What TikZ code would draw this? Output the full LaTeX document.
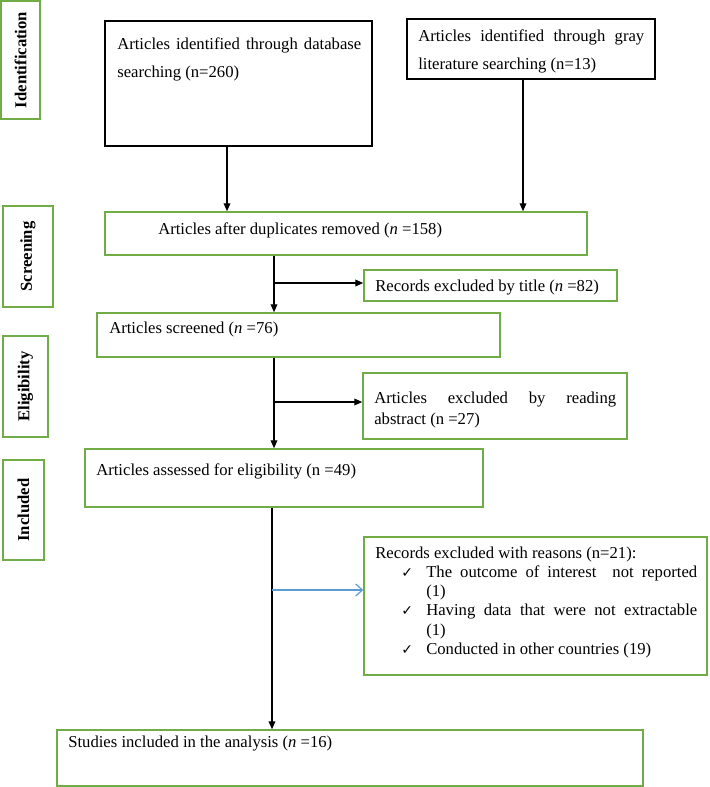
\documentclass[tikz,border=0pt]{standalone}
\usepackage{fontspec}
\setmainfont{Liberation Serif}
\newfontfamily\symfont{DejaVu Sans}
\usetikzlibrary{arrows.meta,fit}
\definecolor{pgreen}{RGB}{112,173,71}
\definecolor{pblue}{RGB}{91,155,213}
\begin{document}
\begin{tikzpicture}[x=0.75pt,y=-0.75pt,
  gbox/.style={draw=pgreen, line width=1.1pt, inner sep=0pt},
  kbox/.style={draw=black, line width=1.1pt, inner sep=0pt},
  txt/.style={inner sep=0pt, anchor=base west, font=\fontsize{12.5}{14}\selectfont},
  side/.style={rotate=90, inner sep=0pt, font=\fontsize{12.5}{14}\selectfont\bfseries},
  chk/.style={inner sep=0pt, anchor=base west, font=\symfont\fontsize{10.5}{11}\selectfont},
  arr/.style={-{Triangle[length=6pt,width=5pt]}, line width=1pt},
  barr/.style={-{Straight Barb[length=5pt,width=9pt]}, draw=pblue, line width=0.9pt}]
\useasboundingbox (0,0) rectangle (709,787);

% side labels
\node[gbox, fit={(1,1)(40,119)}] (lid) {};
\node[side] (tid) at (lid.center) {Identification};
\node[gbox, fit={(3,206)(53,307)}] (lsc) {};
\node[side] (tsc) at (lsc.center) {Screening};
\node[gbox, fit={(3,336)(48,437)}] (lel) {};
\node[side] (tel) at (lel.center) {Eligibility};
\node[gbox, fit={(3,460)(44,560)}] (lin) {};
\node[side] (tin) at (lin.center) {Included};

% identification boxes
\node[kbox, fit={(105,21)(372,146)}] (db) {};
\node[txt] (db1) at (117,50) {\makebox[183pt][s]{Articles identified through database}};
\node[txt] (db2) at (117,78) {searching (n=260)};
\node[kbox, fit={(407,19)(655,79)}] (gray) {};
\node[txt] (gr1) at (418,42) {\makebox[169.5pt][s]{Articles identified through gray}};
\node[txt] (gr2) at (418,70) {literature searching (n=13)};

% screening
\node[gbox, fit={(105,212)(587,255)}] (dup) {};
\node[txt] (dupt) at (158,235) {Articles after duplicates removed (\textit{n} =158)};
\node[gbox, fit={(364,270)(617,301)}] (title) {};
\node[txt] (titlet) at (375,292) {Records excluded by title (\textit{n} =82)};
\node[gbox, fit={(97,313)(500,357)}] (scr) {};
\node[txt] (scrt) at (109,334) {Articles screened (\textit{n} =76)};

% eligibility
\node[gbox, fit={(363,373)(627,439)}] (abs) {};
\node[txt] (abs1) at (374,403) {\makebox[181.5pt][s]{Articles excluded by reading}};
\node[txt] (abs2) at (374,424) {abstract (n =27)};
\node[gbox, fit={(85,449)(483,507)}] (ass) {};
\node[txt] (asst) at (96,475) {Articles assessed for eligibility (n =49)};

% included
\node[gbox, fit={(364,537)(707,675)}] (rea) {};
\node[txt] (rea0) at (375,558) {Records excluded with reasons (n=21):};
\node[chk] (ck1) at (401,577) {✓};
\node[txt] (rea1) at (426,577) {\makebox[203.25pt][s]{The outcome of interest \ not reported}};
\node[txt] (rea2) at (426,596) {(1)};
\node[chk] (ck2) at (401,615) {✓};
\node[txt] (rea3) at (426,615) {\makebox[203.25pt][s]{Having data that were not extractable}};
\node[txt] (rea4) at (426,635) {(1)};
\node[chk] (ck3) at (401,654) {✓};
\node[txt] (rea5) at (426,654) {Conducted in other countries (19)};
\node[gbox, fit={(57,730)(643,786)}] (fin) {};
\node[txt] (fint) at (68,747) {Studies included in the analysis (\textit{n} =16)};

% connectors
\draw[arr] (227,0 |- db.south) -- (227,0 |- dup.north);
\draw[arr] (523,0 |- gray.south) -- (523,0 |- dup.north);
\draw[arr] (274,0 |- dup.south) -- (274,0 |- scr.north);
\coordinate (b1) at (274,283);
\draw[arr] (b1) -- (b1 -| title.west);
\draw[arr] (274,0 |- scr.south) -- (274,0 |- ass.north);
\coordinate (b2) at (274,402);
\draw[arr] (b2) -- (b2 -| abs.west);
\draw[arr] (272,0 |- ass.south) -- (272,0 |- fin.north);
\coordinate (b3) at (272,590);
\draw[barr] (b3) -- (b3 -| rea.west);
\end{tikzpicture}
\end{document}
